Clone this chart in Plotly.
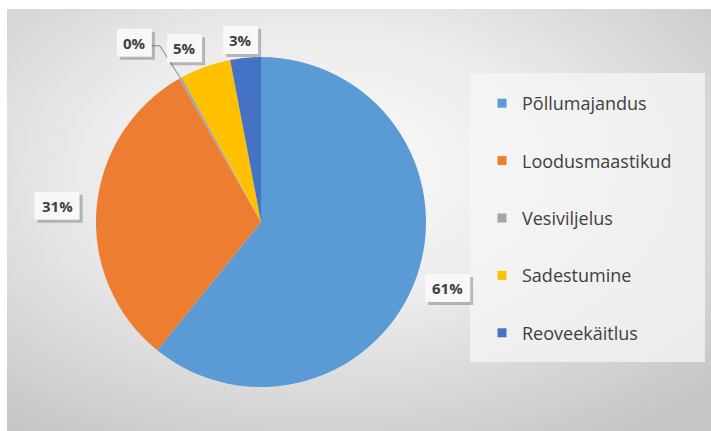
import math, base64
import plotly.graph_objects as go

categories = ["Põllumajandus", "Loodusmaastikud", "Vesiviljelus", "Sadestumine", "Reoveekäitlus"]
values = [61, 31, 0.3, 5, 3]
label_texts = ["61%", "31%", "0%", "5%", "3%"]
colors = ["#5B9BD5", "#ED7D31", "#A5A5A5", "#FFC000", "#4472C4"]

W, H = 711, 431
CX, CY, R = 261, 222, 165  # pie centre / radius in pixels (layout)

# label placement styles (radius factor, angle nudge in degrees)
lab_rf = [1.2, 1.24, 1.33, 1.15, 1.11]
lab_da = [0, 0, -6, -4, -1]
BOX_H = 28

fig = go.Figure()

fig.add_trace(go.Pie(
    labels=categories, values=values, sort=False, direction="clockwise", rotation=0,
    marker=dict(colors=colors, line=dict(width=0)),
    textinfo="none", hoverinfo="label+percent", showlegend=False,
    domain=dict(x=[(CX - R) / W, (CX + R) / W], y=[(H - CY - R) / H, (H - CY + R) / H]),
))

# legend via dummy traces (for spacing)
for i, (c, col) in enumerate(zip(categories, colors)):
    fig.add_trace(go.Scatter(x=[None], y=[None], mode="markers", name=c,
                             marker=dict(symbol="square", size=9, color=col),
                             legendgroup=f"g{i}", showlegend=True))

total = sum(values)
cum = 0
annotations = []
shapes = []
for i, v in enumerate(values):
    mid = (cum + v / 2) / total * 360
    cum += v
    th = math.radians(mid + lab_da[i])
    px = CX + lab_rf[i] * R * math.sin(th)
    py = CY - lab_rf[i] * R * math.cos(th)
    bw = 10 * len(label_texts[i]) + 15
    # shadow box
    shapes.append(dict(type="rect", xref="paper", yref="paper",
                       x0=(px - bw / 2 + 3) / W, x1=(px + bw / 2 + 3) / W,
                       y0=1 - (py + BOX_H / 2 + 3) / H, y1=1 - (py - BOX_H / 2 + 3) / H,
                       fillcolor="rgba(80,80,80,0.35)", line=dict(width=0)))
    shapes.append(dict(type="rect", xref="paper", yref="paper",
                       x0=(px - bw / 2) / W, x1=(px + bw / 2) / W,
                       y0=1 - (py + BOX_H / 2) / H, y1=1 - (py - BOX_H / 2) / H,
                       fillcolor="#f8f8f8", line=dict(width=0)))
    annotations.append(dict(x=px / W, y=1 - py / H, xref="paper", yref="paper",
                            xanchor="center", yanchor="middle",
                            text="<b>" + label_texts[i] + "</b>",
                            showarrow=False, font=dict(family="Open Sans", size=15, color="#404040")))
    if v < 1:
        ex = CX + R * math.sin(math.radians(mid))
        ey = CY - R * math.cos(math.radians(mid))
        sx, sy = px + bw / 2, py + 3
        shapes.append(dict(type="line", xref="paper", yref="paper",
                           x0=sx / W, y0=1 - sy / H, x1=(sx + 8) / W, y1=1 - sy / H,
                           line=dict(color="#7f7f7f", width=1)))
        shapes.append(dict(type="line", xref="paper", yref="paper",
                           x0=(sx + 8) / W, y0=1 - sy / H, x1=ex / W, y1=1 - ey / H,
                           line=dict(color="#7f7f7f", width=1)))

# legend background box
shapes.insert(0, dict(type="rect", xref="paper", yref="paper", layer="below",
                      x0=470 / W, x1=705 / W, y0=1 - 362 / H, y1=1 - 73 / H,
                      fillcolor="rgba(246,246,246,0.75)", line=dict(width=0)))

svg = """<svg xmlns='http://www.w3.org/2000/svg' width='704' height='422'>
<defs><radialGradient id='g' cx='0.45' cy='0.38' r='0.75'>
<stop offset='0' stop-color='#fbfbfb'/><stop offset='0.45' stop-color='#ebebeb'/>
<stop offset='1' stop-color='#c6c6c6'/></radialGradient></defs>
<rect width='704' height='422' fill='url(#g)'/></svg>"""
src = "data:image/svg+xml;base64," + base64.b64encode(svg.encode()).decode()

fig.update_layout(
    width=W, height=H, margin=dict(l=0, r=0, t=0, b=0),
    paper_bgcolor="white", plot_bgcolor="rgba(0,0,0,0)",
    xaxis=dict(visible=False), yaxis=dict(visible=False),
    images=[dict(source=src, xref="paper", yref="paper", x=7 / W, y=1 - 9 / H,
                 sizex=704 / W, sizey=422 / H, sizing="stretch", layer="below")],
    legend=dict(x=482 / W, y=1 - 85 / H, xanchor="left", yanchor="top",
                bgcolor="rgba(0,0,0,0)", tracegroupgap=31,
                font=dict(family="Open Sans", size=18, color="#404040")),
    annotations=annotations, shapes=shapes,
)

fig.write_html("out.html")
